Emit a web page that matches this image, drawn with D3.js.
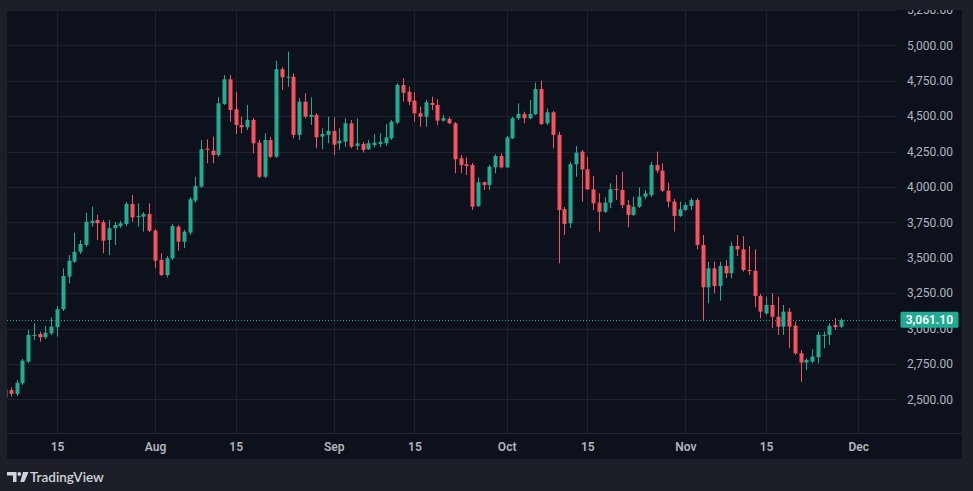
<!DOCTYPE html>
<html>
<head>
<meta charset="utf-8">
<script src="https://cdn.jsdelivr.net/npm/d3@7"></script>
<style>
  html, body { margin: 0; padding: 0; background: #1c1f28; }
  svg { display: block; }
</style>
</head>
<body>
<svg id="chart" width="973" height="491"></svg>
<script>
// daily ETH candles, 6 Jul 2025 .. 28 Nov 2025
var firstDay = new Date(Date.UTC(2025, 6, 6));
var lastDay = new Date(Date.UTC(2025, 10, 28));

var opens = [
  2514, 2566, 2538, 2613, 2766, 2947, 2961, 2938, 2966, 3009, 3136, 3366, 3472, 3542, 3590, 3745, 3766, 3750, 3625, 3708, 3724, 3738, 3879, 3788, 3790, 3809,
  3691, 3484, 3378, 3496, 3719, 3613, 3677, 3903, 4002, 4270, 4256, 4225, 4586, 4760, 4548, 4437, 4421, 4473, 4312, 4072, 4331, 4213, 4831, 4774, 4778, 4367, 4602, 4494, 4508, 4355, 4367,
  4395, 4308, 4319, 4449, 4289, 4303, 4266, 4296, 4303, 4308, 4343, 4454, 4720, 4672, 4609, 4520, 4496, 4593, 4579, 4468, 4480, 4449, 4202, 4160, 4155, 3865, 4033, 4014, 4138, 4218,
  4138, 4343, 4485, 4515, 4485, 4513, 4691, 4449, 4527, 4367, 3842, 3743, 4160, 4249, 4124, 3983, 3889, 3825, 3889, 3985, 3978, 3872, 3802, 3860, 3931, 3943, 4155, 4115, 3973, 3896, 3795,
  3837, 3865, 3908, 3590, 3291, 3425, 3300, 3442, 3390, 3583, 3559, 3413, 3408, 3230, 3107, 3166, 3083, 3013, 3119, 3020, 2825, 2759, 2766, 2797, 2948, 2955, 3025, 3013
];
var highs = [
  2587, 2585, 2637, 2785, 2990, 3037, 2978, 3018, 3079, 3159, 3425, 3519, 3677, 3625, 3818, 3860, 3802, 3766, 3766, 3752, 3759, 3893, 3943, 3884, 3823, 3884,
  3703, 3531, 3512, 3738, 3731, 3696, 3929, 4072, 4331, 4336, 4355, 4633, 4790, 4790, 4672, 4496, 4578, 4487, 4331, 4379, 4353, 4891, 4847, 4955, 4802, 4628, 4661, 4633, 4522, 4414, 4496,
  4492, 4414, 4485, 4473, 4485, 4319, 4331, 4374, 4379, 4444, 4473, 4732, 4767, 4708, 4668, 4567, 4614, 4637, 4619, 4508, 4494, 4458, 4225, 4209, 4169, 4068, 4037, 4155, 4232, 4237,
  4360, 4494, 4590, 4531, 4614, 4736, 4750, 4555, 4536, 4390, 3858, 4176, 4289, 4261, 4213, 4077, 3955, 3927, 4025, 4084, 4107, 3908, 3931, 3997, 3978, 4178, 4249, 4167, 4030, 3915, 3896,
  3889, 3920, 3920, 3660, 3472, 3472, 3472, 3484, 3613, 3660, 3653, 3583, 3559, 3244, 3225, 3249, 3225, 3166, 3145, 3048, 2848, 2790, 2853, 2978, 2978, 3037, 3072, 3072
];
var lows = [
  2502, 2518, 2523, 2601, 2756, 2919, 2907, 2926, 2954, 2943, 3124, 3319, 3463, 3526, 3576, 3719, 3625, 3531, 3519, 3590, 3710, 3724, 3754, 3719, 3684, 3682,
  3425, 3371, 3361, 3484, 3550, 3567, 3660, 3889, 3992, 4167, 4167, 4211, 4578, 4461, 4374, 4379, 4402, 4237, 4063, 4063, 4204, 4204, 4684, 4708, 4343, 4331, 4485, 4437, 4273, 4266, 4308,
  4225, 4261, 4284, 4273, 4261, 4242, 4261, 4280, 4280, 4289, 4331, 4444, 4602, 4578, 4461, 4425, 4425, 4543, 4437, 4461, 4444, 4096, 4096, 4084, 3837, 3858, 3978, 3978, 4096, 4131,
  4134, 4338, 4473, 4449, 4478, 4508, 4437, 4437, 4273, 3461, 3660, 3710, 4072, 3896, 3978, 3837, 3684, 3816, 3849, 3908, 3849, 3715, 3795, 3851, 3913, 3927, 4096, 3964, 3856, 3684, 3788,
  3830, 3837, 3559, 3060, 3178, 3249, 3196, 3355, 3355, 3512, 3401, 3378, 3150, 3072, 3096, 3002, 2955, 2955, 2860, 2813, 2624, 2707, 2754, 2754, 2860, 2884, 2990, 3002
];
var closes = [
  2571, 2538, 2617, 2773, 2954, 2954, 2938, 2970, 3013, 3136, 3371, 3479, 3542, 3597, 3754, 3759, 3743, 3620, 3708, 3731, 3743, 3879, 3785, 3795, 3809, 3691,
  3479, 3378, 3496, 3724, 3613, 3684, 3913, 4006, 4266, 4262, 4225, 4590, 4760, 4543, 4437, 4421, 4473, 4308, 4072, 4331, 4213, 4831, 4774, 4778, 4367, 4602, 4496, 4508, 4350, 4374, 4395,
  4298, 4326, 4449, 4284, 4308, 4261, 4308, 4312, 4319, 4350, 4461, 4720, 4665, 4602, 4520, 4496, 4598, 4579, 4468, 4485, 4449, 4195, 4155, 4148, 3860, 4033, 4014, 4143, 4218, 4138,
  4350, 4485, 4515, 4485, 4515, 4691, 4444, 4527, 4367, 3837, 3738, 4160, 4242, 4124, 3983, 3884, 3825, 3889, 3983, 3978, 3872, 3802, 3860, 3931, 3955, 4155, 4115, 3973, 3896, 3795, 3842,
  3872, 3908, 3590, 3291, 3425, 3300, 3442, 3390, 3583, 3559, 3413, 3408, 3230, 3119, 3166, 3083, 3013, 3119, 3013, 2825, 2759, 2778, 2801, 2955, 2955, 3018, 3009, 3061.1
];

var priceTicks = [2500, 2750, 3000, 3250, 3500, 3750, 4000, 4250, 4500, 4750, 5000, 5250];
var dateTicks = [
  new Date(Date.UTC(2025, 6, 15)), new Date(Date.UTC(2025, 7, 1)), new Date(Date.UTC(2025, 7, 15)),
  new Date(Date.UTC(2025, 8, 1)), new Date(Date.UTC(2025, 8, 15)), new Date(Date.UTC(2025, 9, 1)),
  new Date(Date.UTC(2025, 9, 15)), new Date(Date.UTC(2025, 10, 1)), new Date(Date.UTC(2025, 10, 15)),
  new Date(Date.UTC(2025, 11, 1))
];
var dateLabels = ["15", "Aug", "15", "Sep", "15", "Oct", "15", "Nov", "15", "Dec"];
var lastPrice = 3061.10;

var upColor = "#22ab94", downColor = "#f7525f";
var gridColor = "#1d2232";
var textColor = "#b2b5be";
var font = "Roboto, 'Noto Sans', sans-serif";

var panel = {left: 7, top: 10, right: 962, bottom: 459};
var plot = {left: 7, top: 10, right: 897, bottom: 433};

var days = d3.utcDay.range(firstDay, d3.utcDay.offset(lastDay, 1));
var data = days.map(function(d, i) {
  return {date: d, o: opens[i], h: highs[i], l: lows[i], c: closes[i]};
});

var x = d3.scaleUtc()
  .domain([new Date(Date.UTC(2025, 7, 1)), new Date(Date.UTC(2025, 11, 1))])
  .range([155, 858.3]);
var y = d3.scaleLinear().domain([2500, 5000]).range([399.3, 45.3]);

var svg = d3.select("#chart");

// panel background
svg.append("rect")
  .attr("x", panel.left).attr("y", panel.top)
  .attr("width", panel.right - panel.left).attr("height", panel.bottom - panel.top)
  .attr("fill", "#0d111b");

svg.append("clipPath").attr("id", "plotclip")
  .append("rect")
  .attr("x", plot.left).attr("y", plot.top)
  .attr("width", plot.right - plot.left).attr("height", plot.bottom - plot.top);

svg.append("clipPath").attr("id", "panelclip")
  .append("rect")
  .attr("x", panel.left).attr("y", panel.top)
  .attr("width", panel.right - panel.left).attr("height", plot.bottom - panel.top);

var grid = svg.append("g").attr("clip-path", "url(#plotclip)");

// horizontal grid
grid.selectAll(".hgrid")
  .data(priceTicks)
  .enter().append("line")
  .attr("x1", plot.left).attr("x2", plot.right)
  .attr("y1", function(d) { return Math.round(y(d)) + 0.5; })
  .attr("y2", function(d) { return Math.round(y(d)) + 0.5; })
  .attr("stroke", gridColor).attr("stroke-width", 1);

// vertical grid
grid.selectAll(".vgrid")
  .data(dateTicks)
  .enter().append("line")
  .attr("x1", function(d) { return Math.round(x(d)) + 0.5; })
  .attr("x2", function(d) { return Math.round(x(d)) + 0.5; })
  .attr("y1", plot.top).attr("y2", plot.bottom)
  .attr("stroke", gridColor).attr("stroke-width", 1);

// last price dotted line
grid.append("line")
  .attr("x1", plot.left).attr("x2", plot.right + 4)
  .attr("y1", Math.round(y(lastPrice)) + 0.5)
  .attr("y2", Math.round(y(lastPrice)) + 0.5)
  .attr("stroke", upColor).attr("stroke-width", 1)
  .attr("stroke-dasharray", "1,2");

// candles
var candles = grid.selectAll(".candle")
  .data(data)
  .enter().append("g")
  .attr("class", "candle");

candles.append("line")
  .attr("x1", function(d) { return Math.round(x(d.date)) + 0.5; })
  .attr("x2", function(d) { return Math.round(x(d.date)) + 0.5; })
  .attr("y1", function(d) { return y(d.h); })
  .attr("y2", function(d) { return y(d.l); })
  .attr("stroke", function(d) { return d.c >= d.o ? upColor : downColor; })
  .attr("stroke-width", 1);

var bodyW = 4;
candles.append("rect")
  .attr("x", function(d) { return Math.round(x(d.date)) + 0.5 - bodyW / 2; })
  .attr("width", bodyW)
  .attr("y", function(d) { return y(Math.max(d.o, d.c)); })
  .attr("height", function(d) { return Math.max(1, Math.abs(y(d.o) - y(d.c))); })
  .attr("fill", function(d) { return d.c >= d.o ? upColor : downColor; });

// separator above the time scale
svg.append("line")
  .attr("x1", panel.left).attr("x2", panel.right)
  .attr("y1", plot.bottom + 0.5).attr("y2", plot.bottom + 0.5)
  .attr("stroke", "#262a36").attr("stroke-width", 1);

// price scale (clipped at the panel top, like the cut 5,250 label)
var yAxis = svg.append("g")
  .attr("clip-path", "url(#panelclip)")
  .append("g")
  .attr("transform", "translate(953,0)")
  .call(d3.axisLeft(y).tickValues(priceTicks).tickSize(0).tickPadding(0)
    .tickFormat(d3.format(",.2f")));
yAxis.select(".domain").remove();
yAxis.selectAll("text")
  .attr("fill", textColor)
  .style("font-family", font)
  .style("font-size", "12px");

// time scale
var xAxis = svg.append("g")
  .attr("transform", "translate(0," + plot.bottom + ")")
  .call(d3.axisBottom(x).tickValues(dateTicks).tickSize(0).tickPadding(9)
    .tickFormat(function(d, i) { return dateLabels[i]; }));
xAxis.select(".domain").remove();
xAxis.selectAll("text")
  .attr("fill", textColor)
  .style("font-family", font)
  .style("font-size", "12px")
  .style("font-weight", "600");

// last price label
var lp = svg.append("g").attr("transform", "translate(0," + y(lastPrice) + ")");
lp.append("rect")
  .attr("x", 900.5).attr("y", -8)
  .attr("width", 58).attr("height", 16)
  .attr("rx", 1.5)
  .attr("fill", upColor);
lp.append("text")
  .attr("x", 953).attr("y", 0).attr("dy", "0.35em")
  .attr("text-anchor", "end")
  .attr("fill", "#ffffff")
  .style("font-family", font)
  .style("font-size", "12px")
  .style("font-weight", "600")
  .text(d3.format(",.2f")(lastPrice));

// TradingView mark
var logo = svg.append("g").attr("fill", "#d1d4dc");
logo.append("path").attr("d", "M7,472 H16.5 V482 H13 V475.5 H7 Z");
logo.append("circle").attr("cx", 19.3).attr("cy", 474).attr("r", 1.9);
logo.append("path").attr("d", "M23,472 H28.5 L24.3,482 H20.3 Z");
logo.append("text")
  .attr("x", 30).attr("y", 482)
  .style("font-family", "Lato, 'Open Sans', sans-serif")
  .style("font-size", "13.5px")
  .style("font-weight", "600")
  .text("TradingView");
</script>
</body>
</html>
